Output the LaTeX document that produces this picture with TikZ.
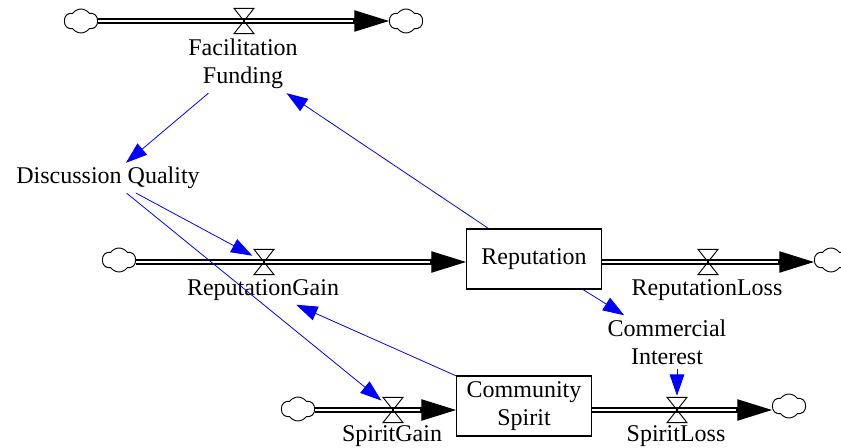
\documentclass[tikz,border=0pt]{standalone}
\usepackage{fontspec}
\setmainfont{Liberation Serif}
\usetikzlibrary{shapes.symbols,arrows.meta,calc}
\begin{document}
\begin{tikzpicture}[x=0.75pt,y=-0.75pt,
 lbl/.style={font=\fontsize{18}{21}\selectfont, align=center, inner sep=3pt},
 stock/.style={draw, line width=1pt, minimum width=101pt, minimum height=45pt, inner sep=0pt, font=\fontsize{18}{21}\selectfont, align=center},
 src/.style={cloud, cloud puffs=6, cloud puff arc=110, aspect=1.3, draw, line width=0.7pt, minimum width=25pt, minimum height=18pt, inner sep=0pt},
 valve/.style={minimum width=17pt, minimum height=21pt, inner sep=0pt,
   path picture={\draw[line width=0.7pt]
     ([xshift=1pt,yshift=-1pt]path picture bounding box.north west) --
     ([xshift=-1pt,yshift=-1pt]path picture bounding box.north east) --
     ([xshift=1pt,yshift=1pt]path picture bounding box.south west) --
     ([xshift=-1pt,yshift=1pt]path picture bounding box.south east) -- cycle;}},
 pipe/.style={draw, double, line width=1pt, double distance=2.2pt},
 pipetip/.style={line width=0.8pt, -{Triangle[length=26pt,width=16pt]}},
 link/.style={draw=blue, line width=0.6pt, -{Triangle[length=16pt,width=11pt]}}]
\useasboundingbox (0,0) rectangle (841,448);

% text variables
\node[lbl] (FF) at (243,64) {Facilitation\\Funding};
\node[lbl] (DQ) at (108,178) {Discussion Quality};
\node[lbl] (RG) at (263,290) {ReputationGain};
\node[lbl] (RL) at (707,290) {ReputationLoss};
\node[lbl] (CI) at (667,342) {Commercial\\Interest};
\node[lbl] (SG) at (392,436) {SpiritGain};
\node[lbl] (SL) at (676,436) {SpiritLoss};

% stocks
\node[stock] (Rep) at (534,259) {Reputation};
\node[stock] (CS) at (524,406) {Community\\Spirit};

% clouds
\node[src] (c1) at (81,21) {};
\node[src] (c2) at (406,21) {};
\node[src] (c3) at (119,260) {};
\node[src] (c4) at (831,260) {};
\node[src] (c5) at (298,409) {};
\node[src] (c6) at (789,406) {};

% pipes
\draw[pipe, shorten >=18pt] (c1.east |- 0,21) -- (c2.west |- 0,21);
\draw[pipe, shorten >=18pt] (c3.east |- 0,262) -- (Rep.west |- 0,262);
\draw[pipe, shorten >=18pt] (Rep.east |- 0,262) -- (c4.west |- 0,262);
\draw[pipe, shorten >=18pt] (c5.east |- 0,410) -- (CS.west |- 0,410);
\draw[pipe, shorten >=18pt] (CS.east |- 0,410) -- (c6.west |- 0,410);

% valves
\node[valve] (v1) at (244,21) {};
\node[valve] (v2) at (264,262) {};
\node[valve] (v3) at (708,262) {};
\node[valve] (v4) at (393,410) {};
\node[valve] (v5) at (677,410) {};

% pipe arrowheads
\draw[pipetip] ($(c2.west |- v1)+(-36,0)$) -- (c2.west |- v1);
\draw[pipetip] ($(Rep.west |- v2)+(-36,0)$) -- (Rep.west |- v2);
\draw[pipetip] ($(c4.west |- v3)+(-36,0)$) -- (c4.west |- v3);
\draw[pipetip] ($(CS.west |- v4)+(-36,0)$) -- (CS.west |- v4);
\draw[pipetip] ($(c6.west |- v5)+(-36,0)$) -- (c6.west |- v5);

% information links
\draw[link] (FF) -- (DQ);
\draw[link] (Rep) -- (FF);
\draw[link] (DQ) -- (v2);
\draw[link] (DQ) -- (v4);
\draw[link] (CS) -- (RG);
\draw[link] (Rep) -- (CI);
\draw[link] (CI.south -| v5) -- (v5);
\end{tikzpicture}
\end{document}
